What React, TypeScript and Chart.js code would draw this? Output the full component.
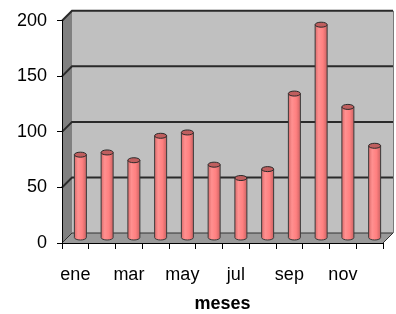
import React, { useEffect, useRef } from "react";
import { Chart, registerables } from "chart.js";

Chart.register(...registerables);

const months = ["ene", "feb", "mar", "abr", "may", "jun", "jul", "ago", "sep", "oct", "nov", "dic"];
const values = [75, 77, 70, 92, 95, 66, 54, 62, 130, 192, 118, 83];
const yTicks = [0, 50, 100, 150, 200];
const xTitle = "meses";

const FONT = "'Liberation Sans Narrow', 'Arial Narrow', 'Liberation Sans', Arial, sans-serif";
const DEPTH = 10;

const box3d = {
  id: "box3d",
  beforeDraw(chart: any) {
    const { ctx, chartArea: a, scales } = chart;
    const y = scales.y;
    const L = a.left;
    const R = a.right;
    const B = y.getPixelForValue(0);
    const Tp = y.getPixelForValue(yTicks[yTicks.length - 1]);
    const D = DEPTH;
    const poly = (pts: number[][], fill: string) => {
      ctx.beginPath();
      ctx.moveTo(pts[0][0], pts[0][1]);
      for (let i = 1; i < pts.length; i++) ctx.lineTo(pts[i][0], pts[i][1]);
      ctx.closePath();
      ctx.fillStyle = fill;
      ctx.fill();
    };
    ctx.save();
    poly([[L + D, Tp - D], [R + D, Tp - D], [R + D, B - D], [L + D, B - D]], "#c0c0c0");
    poly([[L, B], [L, Tp], [L + D, Tp - D], [L + D, B - D]], "#808080");
    poly([[L, B], [R, B], [R + D, B - D], [L + D, B - D]], "#9a9a9a");
    ctx.lineWidth = 2;
    ctx.strokeStyle = "#2a2a2a";
    yTicks.forEach((v) => {
      if (v === 0) return;
      const yy = y.getPixelForValue(v);
      ctx.beginPath();
      ctx.moveTo(L, yy);
      ctx.lineTo(L + D, yy - D);
      ctx.lineTo(R + D, yy - D);
      ctx.stroke();
    });
    ctx.lineWidth = 1;
    ctx.strokeStyle = "#333333";
    ctx.beginPath();
    ctx.moveTo(L, B);
    ctx.lineTo(L + D, B - D);
    ctx.lineTo(R + D, B - D);
    ctx.moveTo(R, B);
    ctx.lineTo(R + D, B - D);
    ctx.stroke();
    ctx.strokeStyle = "#7a7a7a";
    ctx.beginPath();
    ctx.moveTo(R + D + 0.5, Tp - D);
    ctx.lineTo(R + D + 0.5, B - D);
    ctx.stroke();
    ctx.restore();
  },
  afterDatasetsDraw(chart: any) {
    const { ctx } = chart;
    const meta = chart.getDatasetMeta(0);
    const D = DEPTH;
    ctx.save();
    meta.data.forEach((el: any) => {
      const { x, y, base, width } = el.getProps(["x", "y", "base", "width"], true);
      const cx = x + D / 2;
      const top = y - D / 2;
      const bot = base - D / 2;
      const r = width / 2;
      const ry = 2.5;
      const g = ctx.createLinearGradient(cx - r, 0, cx + r, 0);
      g.addColorStop(0, "#dc6c6c");
      g.addColorStop(0.3, "#ff9090");
      g.addColorStop(0.65, "#ff8080");
      g.addColorStop(1, "#cc6464");
      ctx.beginPath();
      ctx.moveTo(cx - r, top);
      ctx.lineTo(cx - r, bot);
      ctx.ellipse(cx, bot, r, ry, 0, Math.PI, 0, true);
      ctx.lineTo(cx + r, top);
      ctx.closePath();
      ctx.fillStyle = g;
      ctx.fill();
      ctx.lineWidth = 1;
      ctx.strokeStyle = "#3a3a3a";
      ctx.beginPath();
      ctx.moveTo(cx - r, top);
      ctx.lineTo(cx - r, bot);
      ctx.ellipse(cx, bot, r, ry, 0, Math.PI, 0, true);
      ctx.lineTo(cx + r, top);
      ctx.stroke();
      ctx.beginPath();
      ctx.ellipse(cx, top, r, ry, 0, 0, Math.PI * 2);
      ctx.fillStyle = "#bf5e5e";
      ctx.fill();
      ctx.strokeStyle = "#2a2a2a";
      ctx.stroke();
    });
    ctx.restore();
  },
};

export default function App() {
  const ref = useRef<HTMLCanvasElement | null>(null);
  useEffect(() => {
    document.body.style.margin = "0";
    if (!ref.current) return;
    const chart = new Chart(ref.current, {
      type: "bar",
      data: {
        labels: months,
        datasets: [
          {
            data: values,
            backgroundColor: "rgba(0,0,0,0)",
            borderWidth: 0,
            barThickness: 12,
          },
        ],
      },
      options: {
        animation: false,
        responsive: true,
        maintainAspectRatio: false,
        layout: { padding: { top: 20, right: 13, bottom: 0, left: 0 } },
        plugins: { legend: { display: false }, tooltip: { enabled: false } },
        scales: {
          x: {
            offset: true,
            grid: { offset: true, drawOnChartArea: false, tickLength: 6, color: "#000" },
            border: { color: "#000", width: 1 },
            ticks: {
              autoSkip: false,
              maxRotation: 0,
              padding: 15,
              color: "#000",
              font: { family: FONT, size: 18 },
              callback: (_v: any, i: number) => (i % 2 === 0 ? months[i] : ""),
            },
            title: {
              display: true,
              text: xTitle,
              color: "#000",
              font: { family: FONT, size: 18, weight: "bold", lineHeight: 1 },
              padding: { top: 0, bottom: 1 },
            },
            afterFit: (s: any) => {
              s.height = 71;
            },
          },
          y: {
            min: 0,
            max: 200,
            grid: { drawOnChartArea: false, tickLength: 5, color: "#000" },
            border: { color: "#000", width: 1 },
            ticks: {
              stepSize: 50,
              padding: 10,
              color: "#000",
              font: { family: FONT, size: 18 },
            },
            afterFit: (s: any) => {
              s.width = 62;
            },
          },
        },
      },
      plugins: [box3d],
    });
    return () => chart.destroy();
  }, []);
  return (
    <div style={{ width: 396, height: 314, position: "relative" }}>
      <canvas ref={ref} />
    </div>
  );
}
